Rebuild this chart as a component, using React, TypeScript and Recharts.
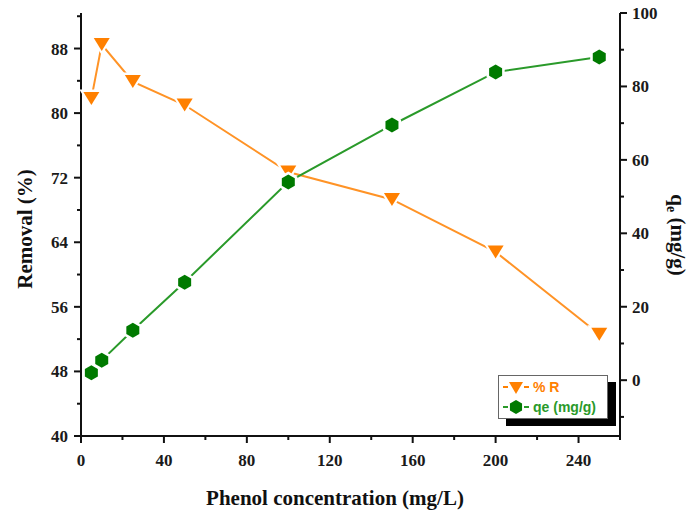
import { ComposedChart, Line, XAxis, YAxis, Legend } from "recharts";

// Phenol concentration (mg/L)
const concentration = [5, 10, 25, 50, 100, 150, 200, 250];
// % removal
const removal = [81.8, 88.5, 83.9, 81.0, 72.7, 69.3, 62.8, 52.6];
// qe (mg/g)
const qe = [2.0, 5.4, 13.6, 26.7, 54.0, 69.5, 83.9, 88.0];

const xTicks = [0, 20, 40, 60, 80, 100, 120, 140, 160, 180, 200, 220, 240, 260];
const leftTicks = [40, 44, 48, 52, 56, 60, 64, 68, 72, 76, 80, 84, 88, 92];
const rightTicks = [-10, 0, 10, 20, 30, 40, 50, 60, 70, 80, 90, 100];

const ORANGE = "#FF8000";
const ORANGE_LINE = "#FF9326";
const GREEN = "#007A00";
const GREEN_LINE = "#2A9A2A";
const FONT = "'Liberation Serif', 'Times New Roman', serif";

const data = concentration.map((c, i) => ({ c, removal: removal[i], qe: qe[i] }));

function makeTick(side: "left" | "right" | "bottom", every: number) {
  // eslint-disable-next-line @typescript-eslint/no-explicit-any
  return function Tick(props: any) {
    const { x, y, payload } = props;
    const v = payload.value;
    const major = Math.abs(v % every) < 1e-6;
    const len = major ? 7 : 4;
    const style = { fontFamily: FONT, fontWeight: 700, fontSize: 17, fill: "#1a1a1a" };
    if (side === "left") {
      return (
        <g>
          <line x1={x - len} y1={y} x2={x} y2={y} stroke="#111" strokeWidth={2} />
          {major && <text x={x - 13} y={y + 6} textAnchor="end" style={style}>{v}</text>}
        </g>
      );
    }
    if (side === "right") {
      return (
        <g>
          <line x1={x} y1={y} x2={x + len} y2={y} stroke="#111" strokeWidth={2} />
          {major && <text x={x + 12} y={y + 6} textAnchor="start" style={style}>{v}</text>}
        </g>
      );
    }
    return (
      <g>
        <line x1={x} y1={y} x2={x} y2={y + len} stroke="#111" strokeWidth={2} />
        {major && <text x={x} y={y + 30} textAnchor="middle" style={style}>{v}</text>}
      </g>
    );
  };
}

// eslint-disable-next-line @typescript-eslint/no-explicit-any
function TriangleDot(props: any) {
  const { cx, cy, index } = props;
  if (cx == null || cy == null) return <g key={index} />;
  const w = 8, h = 6.5;
  const pts = `${cx - w},${cy - h} ${cx + w},${cy - h} ${cx},${cy + h}`;
  const halo = `${cx - w - 4},${cy - h - 2.5} ${cx + w + 4},${cy - h - 2.5} ${cx},${cy + h + 4}`;
  return (
    <g key={index}>
      <polygon points={halo} fill="#fff" />
      <polygon points={pts} fill={ORANGE} />
    </g>
  );
}

function hexPoints(cx: number, cy: number, r: number) {
  const p: string[] = [];
  for (let k = 0; k < 6; k++) {
    const a = (Math.PI / 3) * k - Math.PI / 2;
    p.push(`${cx + r * Math.cos(a)},${cy + r * Math.sin(a)}`);
  }
  return p.join(" ");
}

// eslint-disable-next-line @typescript-eslint/no-explicit-any
function HexDot(props: any) {
  const { cx, cy, index } = props;
  if (cx == null || cy == null) return <g key={index} />;
  return (
    <g key={index}>
      <polygon points={hexPoints(cx, cy, 10.5)} fill="#fff" />
      <polygon points={hexPoints(cx, cy, 7.5)} fill={GREEN} />
    </g>
  );
}

function LegendBox() {
  const row = {
    display: "flex", alignItems: "center", height: 20, whiteSpace: "nowrap" as const,
    fontFamily: "'Liberation Sans', Arial, sans-serif", fontWeight: 700, fontSize: 14,
  };
  return (
    <div style={{ border: "1px solid #666", background: "#fff", boxShadow: "8px 7px 0 #000", padding: "1px 3px", width: 110, boxSizing: "border-box" as const }}>
      <div style={{ ...row, color: ORANGE }}>
        <svg width={28} height={16}>
          <line x1={1} y1={8} x2={6} y2={8} stroke={ORANGE} strokeWidth={2} />
          <polygon points="7,3 21,3 14,15" fill={ORANGE} />
          <line x1={22} y1={8} x2={27} y2={8} stroke={ORANGE} strokeWidth={2} />
        </svg>
        <span style={{ marginLeft: 3 }}>% R</span>
      </div>
      <div style={{ ...row, color: GREEN_LINE }}>
        <svg width={28} height={16}>
          <line x1={1} y1={8} x2={6} y2={8} stroke={GREEN_LINE} strokeWidth={2} />
          <polygon points={hexPoints(14, 8, 7)} fill={GREEN} />
          <line x1={22} y1={8} x2={27} y2={8} stroke={GREEN_LINE} strokeWidth={2} />
        </svg>
        <span style={{ marginLeft: 3 }}>qe (mg/g)</span>
      </div>
    </div>
  );
}

const titleStyle = { fontFamily: FONT, fontWeight: 700, fontSize: 21, fill: "#111" };

export default function App() {
  return (
    <div style={{ position: "absolute", left: 0, top: 0, width: 700, height: 516, background: "#fff" }}>
      <ComposedChart width={700} height={516} data={data} margin={{ top: 13, right: 0, bottom: 0, left: 0 }}>
        <XAxis
          xAxisId="bottom"
          dataKey="c"
          type="number"
          domain={[0, 260]}
          ticks={xTicks}
          interval={0}
          tickSize={0}
          tickMargin={0}
          tickLine={false}
          tick={makeTick("bottom", 40)}
          axisLine={{ stroke: "#111", strokeWidth: 2 }}
          height={80}
          label={{
            content: () => (
              <text x={335} y={505} textAnchor="middle" style={titleStyle}>Phenol concentration (mg/L)</text>
            ),
          }}
        />
        <XAxis
          xAxisId="top"
          orientation="top"
          dataKey="c"
          type="number"
          domain={[0, 260]}
          tick={false}
          tickLine={false}
          height={0}
          axisLine={{ stroke: "#111", strokeWidth: 2 }}
        />
        <YAxis
          yAxisId="left"
          type="number"
          domain={[40, 92.4]}
          ticks={leftTicks}
          interval={0}
          tickSize={0}
          tickMargin={0}
          tickLine={false}
          tick={makeTick("left", 8)}
          axisLine={{ stroke: "#111", strokeWidth: 2 }}
          width={81}
          label={{
            content: () => (
              <text x={32} y={229} textAnchor="middle" transform="rotate(-90 32 229)" style={titleStyle}>Removal (%)</text>
            ),
          }}
        />
        <YAxis
          yAxisId="right"
          orientation="right"
          type="number"
          domain={[-15.2, 100]}
          ticks={rightTicks}
          interval={0}
          tickSize={0}
          tickMargin={0}
          tickLine={false}
          tick={makeTick("right", 20)}
          axisLine={{ stroke: "#111", strokeWidth: 2 }}
          width={80}
          label={{
            content: () => (
              <text x={671} y={235} textAnchor="middle" transform="rotate(90 671 235)" style={titleStyle}>
                q<tspan dy={4} fontSize={14}>e</tspan><tspan dy={-4}> (mg/g)</tspan>
              </text>
            ),
          }}
        />
        <Legend
          layout="vertical"
          align="center"
          verticalAlign="middle"
          content={() => <LegendBox />}
          wrapperStyle={{ left: 498, top: 375, width: 110, height: 44 }}
        />
        <Line
          xAxisId="bottom"
          yAxisId="left"
          dataKey="removal"
          name="% R"
          stroke={ORANGE_LINE}
          strokeWidth={2}
          dot={TriangleDot}
          activeDot={false}
          isAnimationActive={false}
        />
        <Line
          xAxisId="bottom"
          yAxisId="right"
          dataKey="qe"
          name="qe (mg/g)"
          stroke={GREEN_LINE}
          strokeWidth={2}
          dot={HexDot}
          activeDot={false}
          isAnimationActive={false}
        />
      </ComposedChart>
    </div>
  );
}
